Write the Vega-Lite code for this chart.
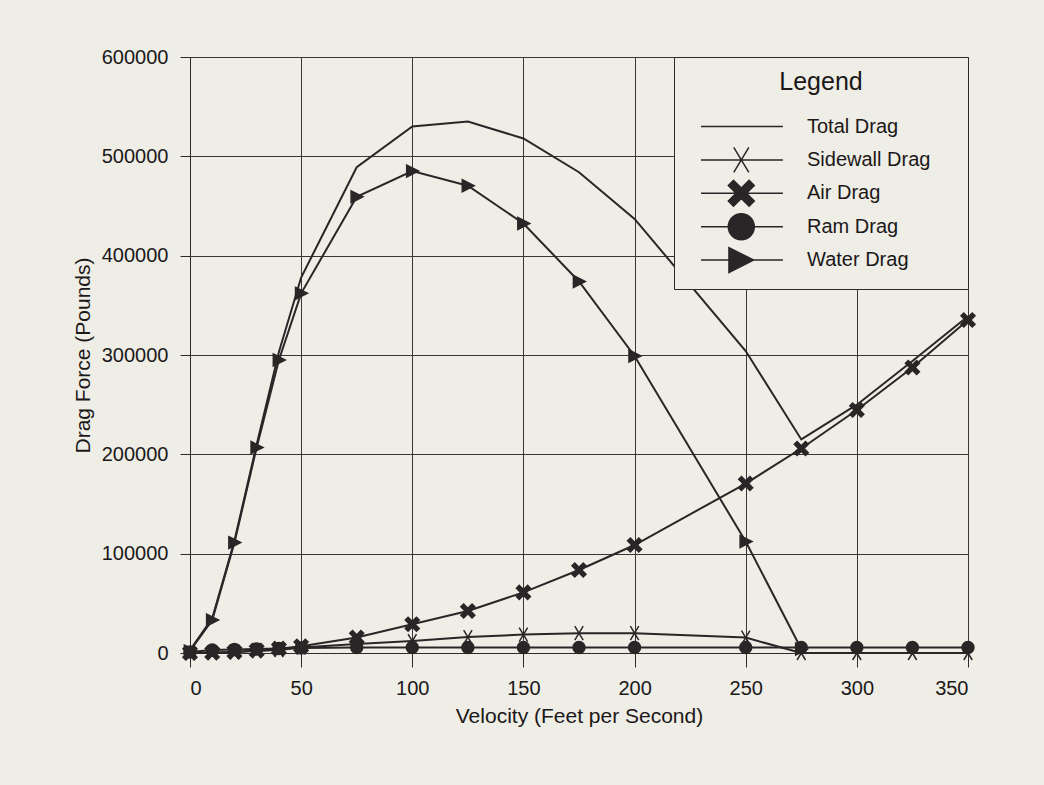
{
  "$schema": "https://vega.github.io/schema/vega-lite/v6.json",
  "width": 778,
  "height": 596,
  "autosize": {"type": "none"},
  "padding": {"left": 190, "top": 57, "right": 76, "bottom": 132},
  "background": "#eeede6",
  "config": {
    "font": "Liberation Sans",
    "view": {"stroke": "#2e2a2b", "strokeWidth": 1},
    "axis": {
      "grid": true,
      "gridColor": "#3a3637",
      "gridWidth": 1,
      "gridOpacity": 1,
      "domainColor": "#2e2a2b",
      "tickColor": "#2e2a2b",
      "labelColor": "#1c1819",
      "titleColor": "#1c1819",
      "labelFontSize": 20,
      "titleFontSize": 21,
      "titleFontWeight": "normal"
    }
  },
  "data": {
    "values": [
      {"v": 0, "drag": 3000, "series": "Total Drag"},
      {"v": 10, "drag": 35000, "series": "Total Drag"},
      {"v": 20, "drag": 113000, "series": "Total Drag"},
      {"v": 30, "drag": 210000, "series": "Total Drag"},
      {"v": 40, "drag": 303000, "series": "Total Drag"},
      {"v": 50, "drag": 378000, "series": "Total Drag"},
      {"v": 75, "drag": 489000, "series": "Total Drag"},
      {"v": 100, "drag": 530000, "series": "Total Drag"},
      {"v": 125, "drag": 535000, "series": "Total Drag"},
      {"v": 150, "drag": 518000, "series": "Total Drag"},
      {"v": 175, "drag": 484000, "series": "Total Drag"},
      {"v": 200, "drag": 437000, "series": "Total Drag"},
      {"v": 250, "drag": 304000, "series": "Total Drag"},
      {"v": 275, "drag": 215000, "series": "Total Drag"},
      {"v": 300, "drag": 250000, "series": "Total Drag"},
      {"v": 325, "drag": 294000, "series": "Total Drag"},
      {"v": 350, "drag": 339000, "series": "Total Drag"},

      {"v": 0, "drag": 0, "series": "Sidewall Drag"},
      {"v": 10, "drag": 500, "series": "Sidewall Drag"},
      {"v": 20, "drag": 1000, "series": "Sidewall Drag"},
      {"v": 30, "drag": 2000, "series": "Sidewall Drag"},
      {"v": 40, "drag": 3000, "series": "Sidewall Drag"},
      {"v": 50, "drag": 5500, "series": "Sidewall Drag"},
      {"v": 75, "drag": 9000, "series": "Sidewall Drag"},
      {"v": 100, "drag": 12000, "series": "Sidewall Drag"},
      {"v": 125, "drag": 16000, "series": "Sidewall Drag"},
      {"v": 150, "drag": 18500, "series": "Sidewall Drag"},
      {"v": 175, "drag": 20000, "series": "Sidewall Drag"},
      {"v": 200, "drag": 20000, "series": "Sidewall Drag"},
      {"v": 250, "drag": 15500, "series": "Sidewall Drag"},
      {"v": 275, "drag": 0, "series": "Sidewall Drag"},
      {"v": 300, "drag": 0, "series": "Sidewall Drag"},
      {"v": 325, "drag": 0, "series": "Sidewall Drag"},
      {"v": 350, "drag": 0, "series": "Sidewall Drag"},

      {"v": 0, "drag": 0, "series": "Air Drag"},
      {"v": 10, "drag": 300, "series": "Air Drag"},
      {"v": 20, "drag": 1100, "series": "Air Drag"},
      {"v": 30, "drag": 2500, "series": "Air Drag"},
      {"v": 40, "drag": 4400, "series": "Air Drag"},
      {"v": 50, "drag": 6800, "series": "Air Drag"},
      {"v": 75, "drag": 15600, "series": "Air Drag"},
      {"v": 100, "drag": 29000, "series": "Air Drag"},
      {"v": 125, "drag": 42300, "series": "Air Drag"},
      {"v": 150, "drag": 61000, "series": "Air Drag"},
      {"v": 175, "drag": 83600, "series": "Air Drag"},
      {"v": 200, "drag": 108700, "series": "Air Drag"},
      {"v": 250, "drag": 170600, "series": "Air Drag"},
      {"v": 275, "drag": 205900, "series": "Air Drag"},
      {"v": 300, "drag": 244600, "series": "Air Drag"},
      {"v": 325, "drag": 287400, "series": "Air Drag"},
      {"v": 350, "drag": 335200, "series": "Air Drag"},

      {"v": 0, "drag": 1000, "series": "Ram Drag"},
      {"v": 10, "drag": 3000, "series": "Ram Drag"},
      {"v": 20, "drag": 3500, "series": "Ram Drag"},
      {"v": 30, "drag": 4000, "series": "Ram Drag"},
      {"v": 40, "drag": 4500, "series": "Ram Drag"},
      {"v": 50, "drag": 5000, "series": "Ram Drag"},
      {"v": 75, "drag": 5500, "series": "Ram Drag"},
      {"v": 100, "drag": 5500, "series": "Ram Drag"},
      {"v": 125, "drag": 5500, "series": "Ram Drag"},
      {"v": 150, "drag": 5500, "series": "Ram Drag"},
      {"v": 175, "drag": 5500, "series": "Ram Drag"},
      {"v": 200, "drag": 5500, "series": "Ram Drag"},
      {"v": 250, "drag": 5500, "series": "Ram Drag"},
      {"v": 275, "drag": 5500, "series": "Ram Drag"},
      {"v": 300, "drag": 5500, "series": "Ram Drag"},
      {"v": 325, "drag": 5500, "series": "Ram Drag"},
      {"v": 350, "drag": 5500, "series": "Ram Drag"},

      {"v": 0, "drag": 2000, "series": "Water Drag"},
      {"v": 10, "drag": 33200, "series": "Water Drag"},
      {"v": 20, "drag": 111200, "series": "Water Drag"},
      {"v": 30, "drag": 206900, "series": "Water Drag"},
      {"v": 40, "drag": 295000, "series": "Water Drag"},
      {"v": 50, "drag": 362100, "series": "Water Drag"},
      {"v": 75, "drag": 459300, "series": "Water Drag"},
      {"v": 100, "drag": 485200, "series": "Water Drag"},
      {"v": 125, "drag": 470400, "series": "Water Drag"},
      {"v": 150, "drag": 432400, "series": "Water Drag"},
      {"v": 175, "drag": 374000, "series": "Water Drag"},
      {"v": 200, "drag": 299000, "series": "Water Drag"},
      {"v": 250, "drag": 112200, "series": "Water Drag"},
      {"v": 275, "drag": 4000, "series": "Water Drag"}
    ]
  },
  "encoding": {
    "x": {
      "field": "v",
      "type": "quantitative",
      "scale": {"domain": [0, 350], "nice": false},
      "axis": {
        "values": [0, 50, 100, 150, 200, 250, 300, 350],
        "title": "Velocity (Feet per Second)",
        "tickSize": 14,
        "labelPadding": 11,
        "titlePadding": 7
      }
    },
    "y": {
      "field": "drag",
      "type": "quantitative",
      "scale": {"domain": [0, 600000], "nice": false},
      "axis": {
        "values": [0, 100000, 200000, 300000, 400000, 500000, 600000],
        "format": "d",
        "title": "Drag Force (Pounds)",
        "tickSize": 10,
        "labelPadding": 12,
        "titlePadding": 8
      }
    }
  },
  "layer": [
    {
      "mark": {"type": "line", "strokeWidth": 2},
      "encoding": {
        "stroke": {
          "field": "series",
          "type": "nominal",
          "scale": {
            "domain": ["Total Drag", "Sidewall Drag", "Air Drag", "Ram Drag", "Water Drag"],
            "range": ["#2a2627", "#2a2627", "#2a2627", "#2a2627", "#2a2627"]
          },
          "legend": {
            "orient": "none",
            "legendX": 484,
            "legendY": 0,
            "title": "Legend",
            "titleFontSize": 25,
            "titleFontWeight": "normal",
            "titleColor": "#1c1819",
            "titleAnchor": "middle",
            "titleAlign": "center",
            "titlePadding": 17.5,
            "labelFontSize": 20,
            "labelColor": "#1c1819",
            "labelOffset": 92,
            "symbolSize": 676,
            "symbolStrokeWidth": 1.5,
            "gridAlign": "all",
            "rowPadding": -0.6,
            "padding": 13,
            "strokeColor": "#2e2a2b",
            "fillColor": "#eeede6",
            "encode": {
              "symbols": {
                "update": {
                  "shape": {"signal": "datum.value === 'Total Drag' ? 'M19.3,0M0,0L6.3,0' : datum.value === 'Sidewall Drag' ? 'M19.3,0M0,0L6.3,0M2.52,-0.96L3.68,0.96M3.68,-0.96L2.52,0.96' : datum.value === 'Air Drag' ? 'M19.3,0M0,0L6.3,0M2.1,-0.6L2.5,-1L3.1,-0.4L3.7,-1L4.1,-0.6L3.5,0L4.1,0.6L3.7,1L3.1,0.4L2.5,1L2.1,0.6L2.7,0Z' : datum.value === 'Ram Drag' ? 'M19.3,0M0,0L6.3,0M4.1,0A1,1,0,1,1,2.1,0A1,1,0,1,1,4.1,0Z' : 'M19.3,0M0,0L6.3,0M2.15,-0.96L4.05,0L2.15,0.96Z'"},
                  "fill": {"value": "#2a2627"},
                  "stroke": {"value": "#2a2627"},
                  "strokeWidth": {"value": 1.5},
                  "opacity": {"value": 1}
                }
              }
            }
          }
        }
      }
    },
    {
      "transform": [{"filter": "datum.series !== 'Total Drag'"}],
      "mark": {
        "type": "point",
        "filled": true,
        "size": 196,
        "color": "#2a2627",
        "stroke": "#2a2627",
        "strokeWidth": 1.5,
        "opacity": 1
      },
      "encoding": {
        "shape": {
          "field": "series",
          "type": "nominal",
          "scale": {
            "domain": ["Sidewall Drag", "Air Drag", "Ram Drag", "Water Drag"],
            "range": [
              "M-0.6,-1L0.6,1M0.6,-1L-0.6,1",
              "M-1,-0.6L-0.6,-1L0,-0.4L0.6,-1L1,-0.6L0.4,0L1,0.6L0.6,1L0,0.4L-0.6,1L-1,0.6L-0.4,0Z",
              "M0.85,0A0.85,0.85,0,1,1,-0.85,0A0.85,0.85,0,1,1,0.85,0Z",
              "M-0.8,-0.85L0.9,0L-0.8,0.85Z"
            ]
          },
          "legend": null
        }
      }
    }
  ]
}
